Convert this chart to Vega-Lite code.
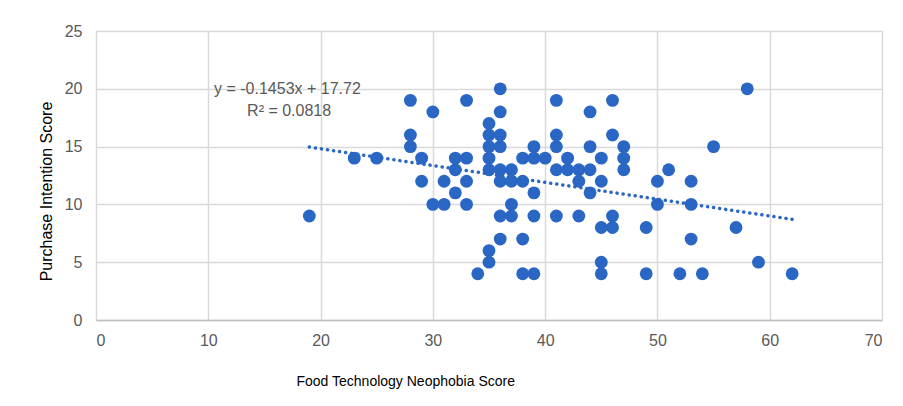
{
  "$schema": "https://vega.github.io/schema/vega-lite/v6.json",
  "width": 786,
  "height": 289,
  "autosize": {"type": "none"},
  "padding": {"left": 96, "top": 31, "right": 21, "bottom": 86},
  "background": "white",
  "config": {
    "view": {"stroke": null},
    "axis": {
      "labelFont": "Liberation Sans",
      "labelColor": "#595959",
      "labelFontSize": 16,
      "titleFont": "Liberation Sans",
      "titleFontWeight": "normal",
      "titleColor": "#000000",
      "titleFontSize": 14,
      "gridColor": "#d9d9d9",
      "gridWidth": 1.5,
      "ticks": false
    }
  },
  "datasets": {
    "points": [
      {"ftns": 19, "pis": 9},
      {"ftns": 23, "pis": 14},
      {"ftns": 25, "pis": 14},
      {"ftns": 28, "pis": 19}, {"ftns": 28, "pis": 16}, {"ftns": 28, "pis": 15},
      {"ftns": 29, "pis": 14}, {"ftns": 29, "pis": 12},
      {"ftns": 30, "pis": 18}, {"ftns": 30, "pis": 10},
      {"ftns": 31, "pis": 12}, {"ftns": 31, "pis": 10},
      {"ftns": 32, "pis": 14}, {"ftns": 32, "pis": 13}, {"ftns": 32, "pis": 11},
      {"ftns": 33, "pis": 19}, {"ftns": 33, "pis": 14}, {"ftns": 33, "pis": 12}, {"ftns": 33, "pis": 10},
      {"ftns": 34, "pis": 4},
      {"ftns": 35, "pis": 17}, {"ftns": 35, "pis": 16}, {"ftns": 35, "pis": 15}, {"ftns": 35, "pis": 14}, {"ftns": 35, "pis": 13}, {"ftns": 35, "pis": 6}, {"ftns": 35, "pis": 5},
      {"ftns": 36, "pis": 20}, {"ftns": 36, "pis": 18}, {"ftns": 36, "pis": 16}, {"ftns": 36, "pis": 15}, {"ftns": 36, "pis": 13}, {"ftns": 36, "pis": 12}, {"ftns": 36, "pis": 9}, {"ftns": 36, "pis": 7},
      {"ftns": 37, "pis": 13}, {"ftns": 37, "pis": 12}, {"ftns": 37, "pis": 10}, {"ftns": 37, "pis": 9},
      {"ftns": 38, "pis": 14}, {"ftns": 38, "pis": 12}, {"ftns": 38, "pis": 7}, {"ftns": 38, "pis": 4},
      {"ftns": 39, "pis": 15}, {"ftns": 39, "pis": 14}, {"ftns": 39, "pis": 11}, {"ftns": 39, "pis": 9}, {"ftns": 39, "pis": 4},
      {"ftns": 40, "pis": 14},
      {"ftns": 41, "pis": 19}, {"ftns": 41, "pis": 16}, {"ftns": 41, "pis": 15}, {"ftns": 41, "pis": 13}, {"ftns": 41, "pis": 9},
      {"ftns": 42, "pis": 14}, {"ftns": 42, "pis": 13},
      {"ftns": 43, "pis": 13}, {"ftns": 43, "pis": 12}, {"ftns": 43, "pis": 9},
      {"ftns": 44, "pis": 18}, {"ftns": 44, "pis": 15}, {"ftns": 44, "pis": 13}, {"ftns": 44, "pis": 11},
      {"ftns": 45, "pis": 14}, {"ftns": 45, "pis": 12}, {"ftns": 45, "pis": 8}, {"ftns": 45, "pis": 5}, {"ftns": 45, "pis": 4},
      {"ftns": 46, "pis": 19}, {"ftns": 46, "pis": 16}, {"ftns": 46, "pis": 9}, {"ftns": 46, "pis": 8},
      {"ftns": 47, "pis": 15}, {"ftns": 47, "pis": 14}, {"ftns": 47, "pis": 13},
      {"ftns": 49, "pis": 8}, {"ftns": 49, "pis": 4},
      {"ftns": 50, "pis": 12}, {"ftns": 50, "pis": 10},
      {"ftns": 51, "pis": 13},
      {"ftns": 52, "pis": 4},
      {"ftns": 53, "pis": 12}, {"ftns": 53, "pis": 10}, {"ftns": 53, "pis": 7},
      {"ftns": 54, "pis": 4},
      {"ftns": 55, "pis": 15},
      {"ftns": 57, "pis": 8},
      {"ftns": 58, "pis": 20},
      {"ftns": 59, "pis": 5},
      {"ftns": 62, "pis": 4}
    ],
    "trend": [
      {"ftns": 19, "pis": 14.96},
      {"ftns": 62, "pis": 8.71}
    ],
    "labels": [
      {"ftns": 17.05, "pis": 20.0, "text": "y = -0.1453x + 17.72"},
      {"ftns": 17.2, "pis": 18.1, "text": "R² = 0.0818"}
    ]
  },
  "layer": [
    {
      "data": {"name": "points"},
      "mark": {"type": "point", "filled": true, "shape": "circle", "size": 165, "color": "#2a66c4", "opacity": 1},
      "encoding": {
        "x": {
          "field": "ftns", "type": "quantitative",
          "scale": {"domain": [0, 70], "nice": false, "zero": true},
          "axis": {
            "values": [0, 10, 20, 30, 40, 50, 60, 70],
            "title": "Food Technology Neophobia Score",
            "labelPadding": 12,
            "domainColor": "#bfbfbf",
            "domainWidth": 1.5,
            "titleX": 200,
            "titleY": 61,
            "titleAlign": "left",
            "titleBaseline": "middle",
            "titleAnchor": null
          }
        },
        "y": {
          "field": "pis", "type": "quantitative",
          "scale": {"domain": [0, 25], "nice": false},
          "axis": {
            "values": [0, 5, 10, 15, 20, 25],
            "title": "Purchase Intention Score",
            "titleFontSize": 16,
            "labelPadding": 14,
            "domain": false,
            "titleX": -50,
            "titleY": 160,
            "titleAngle": 270,
            "titleAlign": "center",
            "titleBaseline": "middle",
            "titleAnchor": null
          }
        }
      }
    },
    {
      "data": {"name": "trend"},
      "mark": {"type": "line", "color": "#2a66c4", "strokeWidth": 3.5, "strokeDash": [0.1, 6], "strokeCap": "round"},
      "encoding": {
        "x": {"field": "ftns", "type": "quantitative"},
        "y": {"field": "pis", "type": "quantitative"}
      }
    },
    {
      "data": {"name": "labels"},
      "mark": {"type": "text", "font": "Liberation Sans", "fontSize": 16, "color": "#595959", "align": "center", "baseline": "middle"},
      "encoding": {
        "x": {"field": "ftns", "type": "quantitative"},
        "y": {"field": "pis", "type": "quantitative"},
        "text": {"field": "text"}
      }
    }
  ]
}
